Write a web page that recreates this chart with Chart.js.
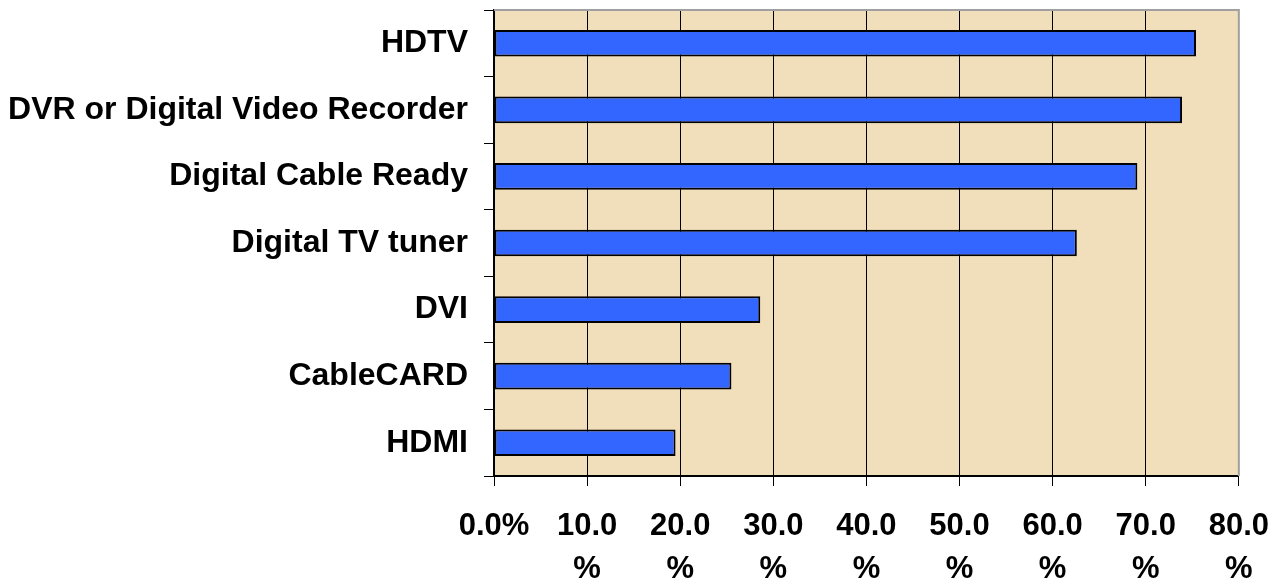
<!DOCTYPE html>
<html>
<head>
<meta charset="utf-8">
<script src="https://cdn.jsdelivr.net/npm/chart.js@4"></script>
<style>
  body { margin: 0; background: #fff; }
</style>
</head>
<body>
<canvas id="grafico" width="1288" height="582"></canvas>
<script>
// Dados
const categorias = ["HDTV", "DVR or Digital Video Recorder", "Digital Cable Ready", "Digital TV tuner", "DVI", "CableCARD", "HDMI"];
const valores = [75.4, 73.9, 69.1, 62.6, 28.6, 25.5, 19.5];
const rotulosX = ["0.0%", ["10.0", "%"], ["20.0", "%"], ["30.0", "%"], ["40.0", "%"], ["50.0", "%"], ["60.0", "%"], ["70.0", "%"], ["80.0", "%"]];

// Fundo da área do gráfico + borda cinza
const fundoPlugin = {
  id: "fundo",
  beforeDraw(chart) {
    const { ctx, chartArea: a } = chart;
    ctx.save();
    ctx.fillStyle = "#F1DEBA";
    ctx.fillRect(a.left, a.top, a.right - a.left, a.bottom - a.top);
    ctx.restore();
  },
  afterDatasetsDraw(chart) {
    const { ctx, chartArea: a } = chart;
    ctx.save();
    ctx.strokeStyle = "#A0A0A0";
    ctx.lineWidth = 2;
    ctx.beginPath();
    ctx.moveTo(a.left, a.top);
    ctx.lineTo(a.right, a.top);
    ctx.lineTo(a.right, a.bottom);
    ctx.stroke();
    ctx.restore();
  }
};

const fonteX = { family: "'Liberation Sans', Arial, sans-serif", size: 31, weight: "bold", lineHeight: 1.38 };
const fonteY = { family: "'Liberation Sans', Arial, sans-serif", size: 32, weight: "bold" };

new Chart(document.getElementById("grafico").getContext("2d"), {
  type: "bar",
  data: {
    labels: categorias,
    datasets: [{
      data: valores,
      backgroundColor: "#3366FF",
      borderColor: "#000000",
      borderWidth: 2,
      borderSkipped: false,
      barPercentage: 0.4,
      categoryPercentage: 1
    }]
  },
  options: {
    indexAxis: "y",
    responsive: false,
    animation: false,
    layout: { padding: { top: 10, right: 48, left: 0, bottom: 0 } },
    plugins: { legend: { display: false }, tooltip: { enabled: false } },
    scales: {
      x: {
        min: 0,
        max: 80,
        ticks: {
          stepSize: 10,
          color: "#000",
          font: fonteX,
          padding: 19,
          maxRotation: 0,
          autoSkip: false,
          callback: (v, i) => rotulosX[i]
        },
        grid: {
          color: ctx => (ctx.tick && ctx.tick.value === 80) ? "rgba(0,0,0,0)" : "#000",
          tickColor: "#000",
          lineWidth: 1,
          tickLength: 10
        },
        border: { color: "#000", width: 2 },
        afterFit: s => { s.height = 106; }
      },
      y: {
        ticks: { color: "#000", font: fonteY, padding: 16 },
        grid: { drawOnChartArea: false, tickColor: "#000", tickLength: 10, offset: true },
        border: { color: "#000", width: 2 },
        afterFit: s => { s.width = 494; s.paddingTop = 0; s.paddingBottom = 0; }
      }
    }
  },
  plugins: [fundoPlugin]
});
</script>
</body>
</html>
